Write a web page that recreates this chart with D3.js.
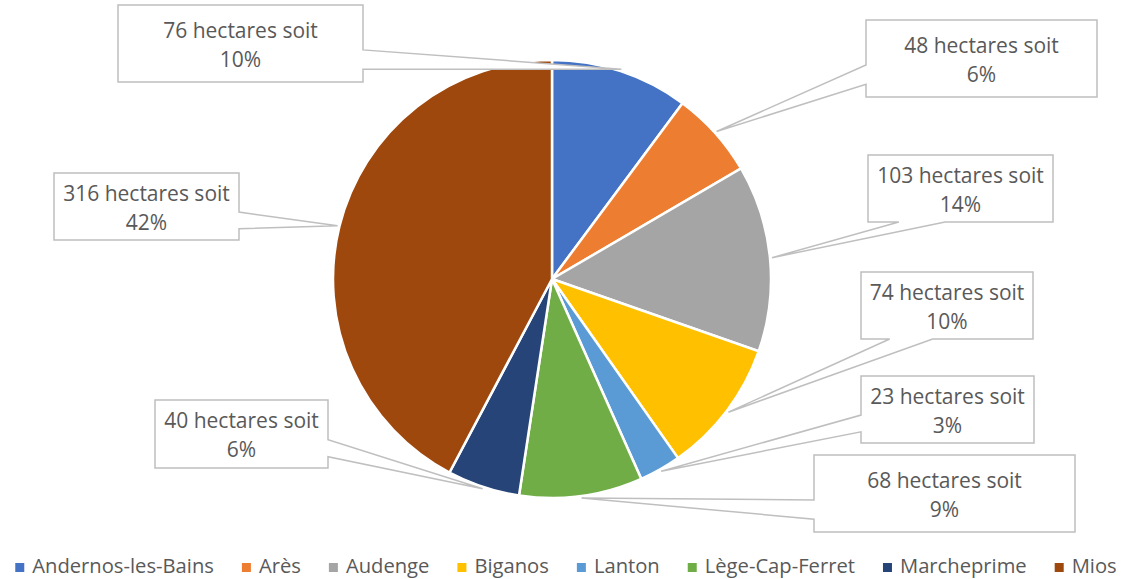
<!DOCTYPE html>
<html>
<head>
<meta charset="utf-8">
<script src="https://cdn.jsdelivr.net/npm/d3@7"></script>
<style>
  html, body { margin: 0; padding: 0; background: #fff; }
  svg { display: block; font-family: "Open Sans", sans-serif; }
</style>
</head>
<body>
<svg id="chart" width="1123" height="579"></svg>
<script>
// ---- data ----
const communes = ["Andernos-les-Bains", "Arès", "Audenge", "Biganos", "Lanton", "Lège-Cap-Ferret", "Marcheprime", "Mios"];
const hectares = [76, 48, 103, 74, 23, 68, 40, 316];
const percentLabels = ["10%", "6%", "14%", "10%", "3%", "9%", "6%", "42%"];
const colors = ["#4472C4", "#ED7D31", "#A5A5A5", "#FFC000", "#5B9BD5", "#70AD47", "#264478", "#9E480E"];

// ---- layout (callout boxes: x, y, w, h) ----
const boxes = [
  [118, 5, 245, 77],
  [866, 20, 231, 77],
  [868, 155, 185, 67],
  [861, 272, 172, 67],
  [861, 376, 173, 67],
  [814, 455, 261, 77],
  [155, 400, 173, 68],
  [54, 173, 185, 67]
];

const W = 1123, H = 579;
const cx = 552, cy = 279, R = 219;
const fontSize = 21;
const textColor = "#595959";

const svg = d3.select("#chart");

const data = communes.map((c, i) => ({ name: c, value: hectares[i], pct: percentLabels[i], color: colors[i] }));

const pie = d3.pie().sort(null).value(d => d.value);
const arcs = pie(data);
const arc = d3.arc().innerRadius(0).outerRadius(R);
const tipArc = d3.arc().innerRadius(R + 2).outerRadius(R + 2);

const g = svg.append("g").attr("transform", `translate(${cx},${cy})`);
g.selectAll("path.slice")
  .data(arcs)
  .enter().append("path")
  .attr("class", "slice")
  .attr("d", arc)
  .attr("fill", d => d.data.color)
  .attr("stroke", "#fff")
  .attr("stroke-width", 2.5)
  .attr("stroke-linejoin", "miter");

// wedge rectangle callout (OOXML wedgeRectCallout geometry)
function calloutPath(b, tip) {
  const [x, y, w, h] = b;
  const hc = x + w / 2, vc = y + h / 2;
  const dx = tip[0] - hc, dy = tip[1] - vc;
  const dq = dx * h / w;
  const dz = Math.abs(dy) - Math.abs(dq);
  const x1 = x + w * (dx > 0 ? 7 : 2) / 12, x2 = x + w * (dx > 0 ? 10 : 5) / 12;
  const y1 = y + h * (dy > 0 ? 7 : 2) / 12, y2 = y + h * (dy > 0 ? 10 : 5) / 12;
  const l = x, r = x + w, t = y, bo = y + h;
  const p = d3.path();
  p.moveTo(l, t);
  if (dz > 0 && dy < 0) { p.lineTo(x1, t); p.lineTo(tip[0], tip[1]); p.lineTo(x2, t); }
  p.lineTo(r, t);
  if (dz <= 0 && dx > 0) { p.lineTo(r, y1); p.lineTo(tip[0], tip[1]); p.lineTo(r, y2); }
  p.lineTo(r, bo);
  if (dz > 0 && dy > 0) { p.lineTo(x2, bo); p.lineTo(tip[0], tip[1]); p.lineTo(x1, bo); }
  p.lineTo(l, bo);
  if (dz <= 0 && dx < 0) { p.lineTo(l, y2); p.lineTo(tip[0], tip[1]); p.lineTo(l, y1); }
  p.closePath();
  return p.toString();
}

const labels = svg.append("g").attr("class", "labels");
arcs.forEach((a, i) => {
  const c = tipArc.centroid(a);
  const tip = [cx + c[0], cy + c[1]];
  const b = boxes[i];
  labels.append("path")
    .attr("d", calloutPath(b, tip))
    .attr("fill", "#fff")
    .attr("stroke", "#BFBFBF")
    .attr("stroke-width", 1.5)
    .attr("stroke-linejoin", "miter");
  const tx = b[0] + b[2] / 2;
  const mid = b[1] + b[3] / 2;
  const txt = labels.append("text")
    .attr("x", tx)
    .attr("text-anchor", "middle")
    .attr("font-size", fontSize)
    .attr("fill", textColor);
  txt.append("tspan").attr("x", tx).attr("y", mid - 6).text(`${a.data.value} hectares soit`);
  txt.append("tspan").attr("x", tx).attr("y", mid + 23).text(a.data.pct);
});

// legend
const legend = svg.append("g").attr("class", "legend");
const items = legend.selectAll("g.item").data(data).enter().append("g").attr("class", "item");
items.append("rect").attr("width", 9).attr("height", 9).attr("y", 563).attr("fill", d => d.color);
const ltexts = items.append("text")
  .attr("x", 17)
  .attr("y", 573)
  .attr("font-size", fontSize)
  .attr("fill", textColor)
  .text(d => d.name);
const gap = 28, mk = 17, avail = 1102;
let sumText = 0;
ltexts.each(function() { sumText += this.getComputedTextLength(); });
const n = data.length;
const legendFs = Math.min(fontSize, fontSize * (avail - n * mk - (n - 1) * gap) / sumText);
ltexts.attr("font-size", legendFs);
let xpos = 0;
const offsets = [];
ltexts.each(function() {
  offsets.push(xpos);
  xpos += mk + this.getComputedTextLength() + gap;
});
const totalW = xpos - gap;
const startX = 566 - totalW / 2;
items.attr("transform", (d, i) => `translate(${startX + offsets[i]},0)`);
</script>
</body>
</html>
